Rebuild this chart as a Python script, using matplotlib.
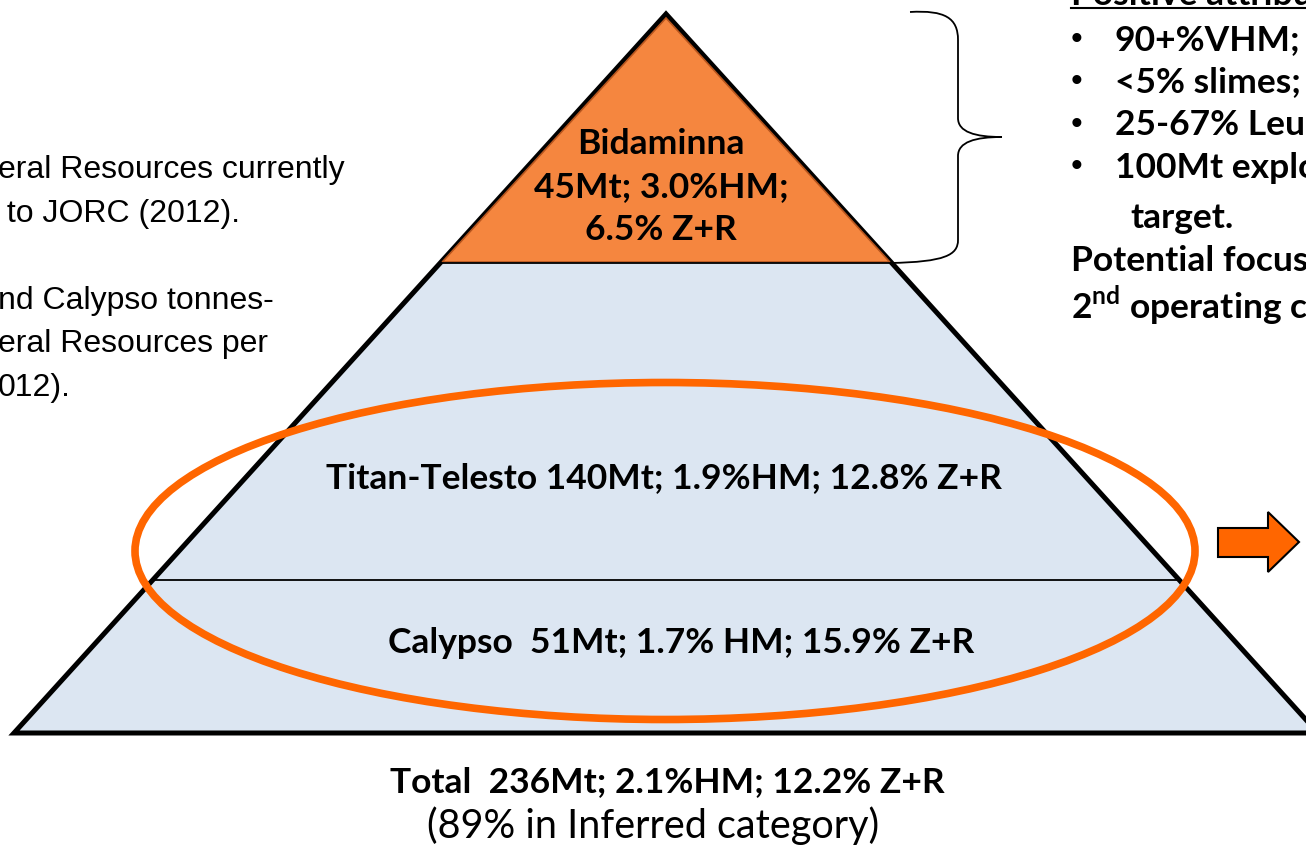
import numpy as np
import matplotlib.pyplot as plt
from matplotlib.patches import Polygon, Ellipse, PathPatch
from matplotlib.path import Path

# tiers of the resource pyramid (top to bottom)
tier_names = ["Bidaminna", "Titan-Telesto", "Calypso"]
tier_mt = [45, 140, 51]
tier_hm = [3.0, 1.9, 1.7]
tier_zr = [6.5, 12.8, 15.9]
total = (236, 2.1, 12.2)
inferred_pct = 89

attributes = ["90+%VHM;", "<5% slimes;", "25-67% Leuc", "100Mt explo"]
left_notes = ["eral Resources currently", " to JORC (2012).", "",
              "nd Calypso tonnes-", "eral Resources per", "012)."]

W, H = 1306, 849
fig = plt.figure(figsize=(W / 100, H / 100), dpi=100)
ax = fig.add_axes([0, 0, 1, 1])
ax.set_xlim(0, W)
ax.set_ylim(H, 0)
ax.axis('off')

FS = 25.5
bold = dict(family=['Lato', 'DejaVu Sans'], fontweight='bold', color='black')
light_blue = '#dce6f2'
orange = '#f5863f'

# pyramid geometry
apex = (666, 14)
base_y = 733
base_l = 14
def x_at(y, side):
    t = (y - apex[1]) / (base_y - apex[1])
    half = (apex[0] - base_l) * t
    return apex[0] + side * half

cuts = [263, 580]

ax.add_patch(Polygon([apex, (base_l, base_y), (2 * apex[0] - base_l, base_y)],
                     closed=True, facecolor=light_blue, edgecolor='black', lw=3.6, zorder=1))
# top tier in orange
ax.add_patch(Polygon([(apex[0], apex[1] + 4), (x_at(cuts[0], -1) + 2, cuts[0] - 1),
                      (x_at(cuts[0], 1) - 2, cuts[0] - 1)],
                     closed=True, facecolor=orange, edgecolor='#b8561e', lw=1.2, zorder=2))
for y in cuts:
    ax.plot([x_at(y, -1), x_at(y, 1)], [y, y], color='black', lw=1.3, zorder=3)

# tier labels
top_lines = [tier_names[0],
             "%dMt; %.1f%%HM;" % (tier_mt[0], tier_hm[0]),
             "%.1f%% Z+R" % tier_zr[0]]
for i, s in enumerate(top_lines):
    ax.text(661, 144 + 43 * i, s, ha='center', va='center', fontsize=FS, zorder=5, **bold)
ax.text(664, 478, "%s %dMt; %.1f%%HM; %.1f%% Z+R" % (tier_names[1], tier_mt[1], tier_hm[1], tier_zr[1]),
        ha='center', va='center', fontsize=FS, zorder=5, **bold)
ax.text(681, 643, "%s  %dMt; %.1f%% HM; %.1f%% Z+R" % (tier_names[2], tier_mt[2], tier_hm[2], tier_zr[2]),
        ha='center', va='center', fontsize=FS, zorder=5, **bold)

# ellipse around the two lower tiers
ax.add_patch(Ellipse((665, 551), 1060, 337, facecolor='none', edgecolor='#ff6600', lw=5.5, zorder=4))

# totals below
ax.text(667, 782, "Total  %dMt; %.1f%%HM; %.1f%% Z+R" % total,
        ha='center', va='center', fontsize=FS, **bold)
ax.text(653, 826, "(%d%% in Inferred category)" % inferred_pct,
        ha='center', va='center', fontsize=28.5, family=['Lato', 'DejaVu Sans'], color='black')

# curly brace
bx, tip = 958, 1002
verts = [(910, 12), (945, 10), (bx, 18), (bx, 40),
         (bx, 118),
         (bx, 132), (975, 137), (tip, 137),
         (975, 137), (bx, 142), (bx, 156),
         (bx, 240),
         (bx, 255), (945, 262), (890, 263)]
codes = [Path.MOVETO, Path.CURVE4, Path.CURVE4, Path.CURVE4,
         Path.LINETO,
         Path.CURVE4, Path.CURVE4, Path.CURVE4,
         Path.CURVE4, Path.CURVE4, Path.CURVE4,
         Path.LINETO,
         Path.CURVE4, Path.CURVE4, Path.CURVE4]
ax.add_patch(PathPatch(Path(verts, codes), facecolor='none', edgecolor='black', lw=1.3))

# right hand attribute list
ax.text(1071, -5, "Positive attribu", ha='left', va='center', fontsize=FS, **bold)
ax.plot([1071, 1306], [8, 8], color='black', lw=1.5)
for i, s in enumerate(attributes):
    y = 40 + 42.5 * i
    ax.text(1071, y, "\u2022", ha='left', va='center', fontsize=24, color='black',
            family=['Liberation Sans', 'DejaVu Sans'])
    ax.text(1115, y, s, ha='left', va='center', fontsize=FS, **bold)
ax.text(1130, 218, "target.", ha='left', va='center', fontsize=FS, **bold)
ax.text(1071, 261, "Potential focus", ha='left', va='center', fontsize=FS, **bold)
ax.text(1071, 305, "2$^{\\mathregular{nd}}$ operating ce", ha='left', va='center', fontsize=FS, **bold)

# left notes
for i, s in enumerate(left_notes):
    ax.text(-2, 170 + 43.5 * i, s, ha='left', va='center', fontsize=23,
            family=['Liberation Sans', 'DejaVu Sans'], color='black')

# arrow
ax.add_patch(Polygon([(1218, 528), (1268, 528), (1268, 512), (1299, 542),
                      (1268, 572), (1268, 557), (1218, 557)],
                     closed=True, facecolor='#ff6600', edgecolor='black', lw=1.5))

fig.savefig('out.png', dpi=100)
